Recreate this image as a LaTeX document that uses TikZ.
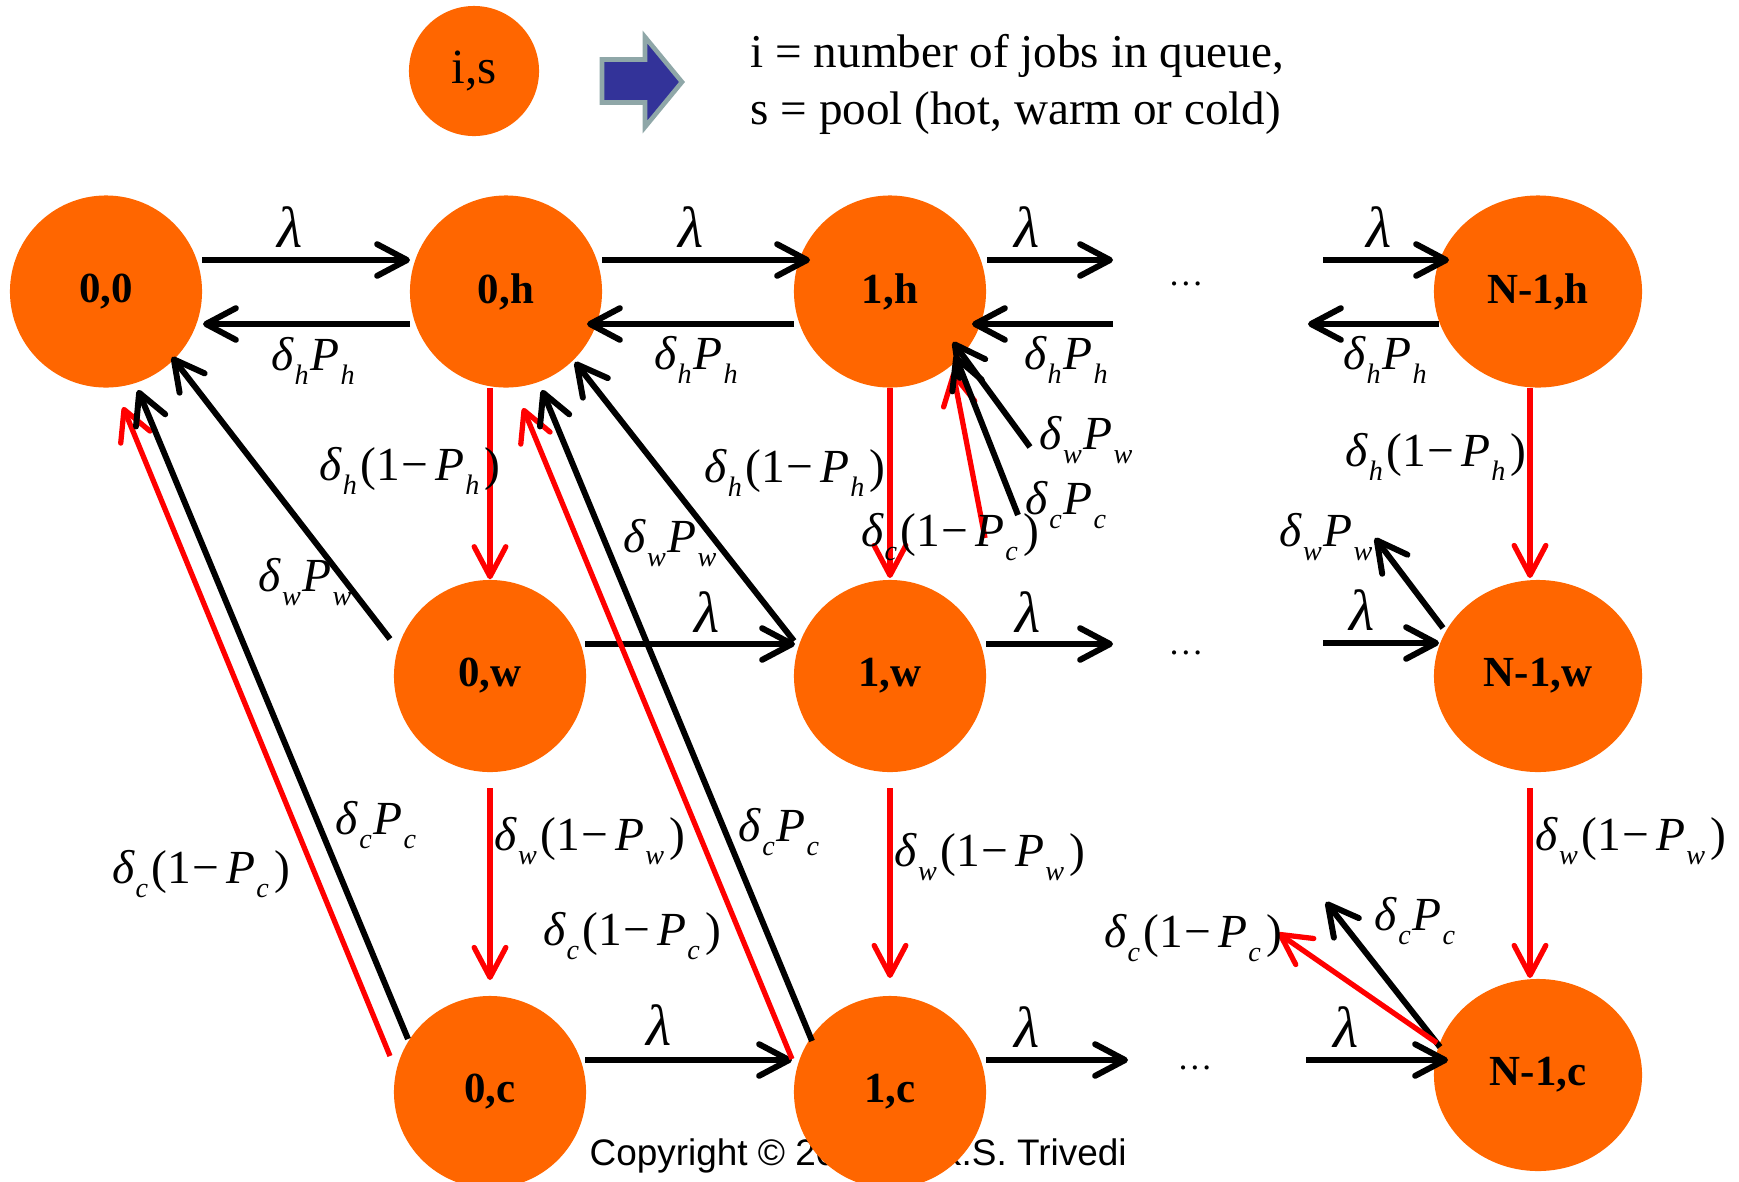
\documentclass[tikz,border=0pt]{standalone}
\usepackage{fontspec}
\setmainfont{Liberation Serif}
\newfontfamily\arialfont{Liberation Sans}
\usetikzlibrary{arrows.meta,shapes.geometric,calc}
\definecolor{org}{HTML}{FF6600}
\definecolor{arrred}{HTML}{FF0000}
\definecolor{navy}{HTML}{333399}
\definecolor{edgegray}{HTML}{8FA7A8}
\newcommand\lfont{\fontsize{13.5}{15}\selectfont}
\newcommand\mysub[1]{\raisebox{-3.8pt}{\fontsize{8}{9}\selectfont\itshape #1}}
\newcommand\dlt[1]{\textit{δ}\kern0.2pt\mysub{#1}}
\newcommand\Pp[1]{\textit{P}\kern0.2pt\mysub{#1}}
\newcommand\dP[1]{\dlt{#1}\kern0.6pt\Pp{#1}}
\newcommand\dQ[1]{\dlt{#1}\kern1pt(1\kern0.5pt−\kern2pt\Pp{#1}\kern1.5pt)}
\newcommand\lam{{\fontsize{16.5}{18}\selectfont\textit{λ}}}
\newcommand\stx[1]{\raisebox{-1.2pt}{#1}}
\begin{document}
\begin{tikzpicture}[x=0.01cm,y=-0.01cm,
  st/.style={circle, fill=org, inner sep=0, minimum size=1.92cm, font=\fontsize{12.2}{13}\selectfont\bfseries},
  ste/.style={ellipse, fill=org, inner sep=0, minimum width=2.08cm, minimum height=1.92cm, font=\fontsize{12.2}{13}\selectfont\bfseries},
  blk/.style={line width=1.7pt, -{Straight Barb[length=8.5pt,width=9pt,round]}},
  rarr/.style={blk, draw=arrred, line width=1.5pt},
  lab/.style={inner sep=0, font=\lfont},
  dots/.style={inner sep=0, anchor=base, font=\fontsize{10}{12}\selectfont}]
\useasboundingbox (0,0) rectangle (1739,1181);

% copyright (partly hidden behind a state)
\node[anchor=base west, inner sep=0, font=\arialfont\fontsize{10.5}{12}\selectfont] (copy) at (589,1165) {Copyright © 2018 by K.S. Trivedi};

% legend
\node[circle, fill=org, minimum size=1.3cm, inner sep=0, font=\fontsize{14}{16}\selectfont] (leg) at (474,71) {i,s};
\draw[fill=navy, draw=edgegray, line width=1.3pt, line join=miter] (602,59.5) -- (645,59.5) -- (645,37) -- (682,82) -- (645,127) -- (645,102.5) -- (602,102.5) -- cycle;
\node[anchor=base west, inner sep=0, font=\fontsize{13.4}{15}\selectfont] (t1) at (750,67) {i = number of jobs in queue,};
\node[anchor=base west, inner sep=0, font=\fontsize{13.4}{15}\selectfont] (t2) at (750,124) {s = pool (hot, warm or cold)};

% states
\node[st] (n00) at (106,291.5) {\stx{0,0}};
\node[st] (n0h) at (506,291.5) {\stx{0,h}};
\node[st] (n1h) at (890,291.5) {\stx{1,h}};
\node[ste] (nNh) at (1538,291.5) {\stx{N-1,h}};
\node[st] (n0w) at (490,676) {\stx{0,w}};
\node[st] (n1w) at (890,676) {\stx{1,w}};
\node[ste] (nNw) at (1538,676) {\stx{N-1,w}};
\node[st] (n0c) at (490,1092) {\stx{0,c}};
\node[st] (n1c) at (890,1092) {\stx{1,c}};
\node[ste] (nNc) at (1538,1075) {\stx{N-1,c}};

% dots
\node[dots] (dotsh) at (1186,285) {…};
\node[dots] (dotsw) at (1186,654) {…};
\node[dots] (dotsc) at (1195,1069) {…};

% free ends
\coordinate (dh1) at (1113,260);
\coordinate (dh2) at (1113,324);
\coordinate (dh3) at (1323,260);
\coordinate (dh4) at (1308,324);
\coordinate (dw1) at (1113,644);
\coordinate (dw2) at (1323,643);
\coordinate (dc1) at (1128,1060);
\coordinate (dc2) at (1306,1060);
\coordinate (e1) at (1030,447);
\coordinate (e2) at (1018,515);
\coordinate (e3) at (985,538);
\coordinate (e4) at (1375,538);
\coordinate (e5) at (1278,933);
\coordinate (e6) at (1326,902);

% hot row
\draw[blk] ($(n00)+(96,-31.5)$) -- ($(n0h)+(-96,-31.5)$);
\draw[blk] ($(n0h)+(-96,32.5)$) -- ($(n00)+(97,32.5)$);
\draw[blk] ($(n0h)+(96,-31.5)$) -- ($(n1h)+(-80,-31.5)$);
\draw[blk] ($(n1h)+(-96,32.5)$) -- ($(n0h)+(81,32.5)$);
\draw[blk] ($(n1h)+(97,-31.5)$) -- (dh1);
\draw[blk] (dh2) -- ($(n1h)+(82,32.5)$);
\draw[blk] (dh3) -- ($(nNh)+(-89,-31.5)$);
\draw[blk] ($(nNh)+(-99,32.5)$) -- (dh4);
% warm row
\draw[blk] ($(n0w)+(95,-32)$) -- ($(n1w)+(-95,-32)$);
\draw[blk] ($(n1w)+(96,-32)$) -- (dw1);
\draw[blk] (dw2) -- ($(nNw)+(-99,-33)$);
% cold row
\draw[blk] ($(n0c)+(95,-32)$) -- ($(n1c)+(-98,-32)$);
\draw[blk] ($(n1c)+(96,-32)$) -- (dc1);
\draw[blk] (dc2) -- ($(nNc)+(-90,-15)$);

% vertical red
\draw[rarr] ($(n0h)+(-16,96.5)$) -- (n0w.north);
\draw[rarr] ($(n1h)+(0,96.5)$) -- ($(n1w)+(0,-98)$);
\draw[rarr] ($(nNh)+(-8,96.5)$) -- ($(nNw)+(-8,-98)$);
\draw[rarr] ($(n0w)+(0,112)$) -- ($(n0c)+(0,-112)$);
\draw[rarr] ($(n1w)+(0,112)$) -- ($(n1c)+(0,-114)$);
\draw[rarr] ($(nNw)+(-8,112)$) -- ($(nNc)+(-8,-97)$);

% diagonals
\draw[blk] ($(n0w)+(-100,-37)$) -- ($(n00)+(66,65.5)$);
\draw[rarr] ($(n0c)+(-100,-36)$) -- ($(n00)+(17,115.5)$);
\draw[blk] ($(n0c)+(-82,-53)$) -- ($(n00)+(32,98.5)$);
\draw[blk] ($(n1w)+(-96,-35)$) -- ($(n0h)+(69,70.5)$);
\draw[rarr] ($(n1c)+(-98,-33)$) -- ($(n0h)+(17,116.5)$);
\draw[blk] ($(n1c)+(-78,-51)$) -- ($(n0h)+(36,98.5)$);
\draw[rarr] (e3) -- ($(n1h)+(63,80.5)$);
\draw[blk] (e2) -- ($(n1h)+(65,63.5)$);
\draw[blk] (e1) -- ($(n1h)+(63,50.5)$);
\draw[blk] ($(nNw)+(-95,-48)$) -- (e4);
\draw[blk] ($(nNc)+(-98,-28)$) -- (e6);
\draw[rarr] ($(nNc)+(-101,-32)$) -- (e5);

% labels: lambda
\node[lab] (l1) at (290,227) {\lam};
\node[lab] (l2) at (691,227) {\lam};
\node[lab] (l3) at (1027,227) {\lam};
\node[lab] (l4) at (1379,227) {\lam};
\node[lab] (l5) at (707,612) {\lam};
\node[lab] (l6) at (1028,612) {\lam};
\node[lab] (l7) at (1362,610) {\lam};
\node[lab] (l8) at (659,1025) {\lam};
\node[lab] (l9) at (1027,1027) {\lam};
\node[lab] (l10) at (1346,1027) {\lam};
% delta_h P_h
\node[lab] (a1) at (313,361) {\dP{h}};
\node[lab] (a2) at (696,360) {\dP{h}};
\node[lab] (a3) at (1066,360) {\dP{h}};
\node[lab] (a4) at (1385,360) {\dP{h}};
% delta_h (1-P_h)
\node[lab] (b1) at (410,471) {\dQ{h}};
\node[lab] (b2) at (795,473) {\dQ{h}};
\node[lab] (b3) at (1436,457) {\dQ{h}};
% delta_w P_w
\node[lab] (c1) at (305,582) {\dP{w}};
\node[lab] (c2) at (670,543) {\dP{w}};
\node[lab] (c3) at (1086,440) {\dP{w}};
\node[lab] (c4) at (1326,537) {\dP{w}};
% delta_c P_c
\node[lab] (f1) at (376,825) {\dP{c}};
\node[lab] (f2) at (779,832) {\dP{c}};
\node[lab] (f3) at (1066,505) {\dP{c}};
\node[lab] (f4) at (1415,921) {\dP{c}};
% delta_c (1-P_c)
\node[lab] (g1) at (201,874) {\dQ{c}};
\node[lab] (g2) at (632,936) {\dQ{c}};
\node[lab] (g3) at (950,537) {\dQ{c}};
\node[lab] (g4) at (1193,938) {\dQ{c}};
% delta_w (1-P_w)
\node[lab] (k1) at (590,841) {\dQ{w}};
\node[lab] (k2) at (990,857) {\dQ{w}};
\node[lab] (k3) at (1631,841) {\dQ{w}};
\end{tikzpicture}
\end{document}
